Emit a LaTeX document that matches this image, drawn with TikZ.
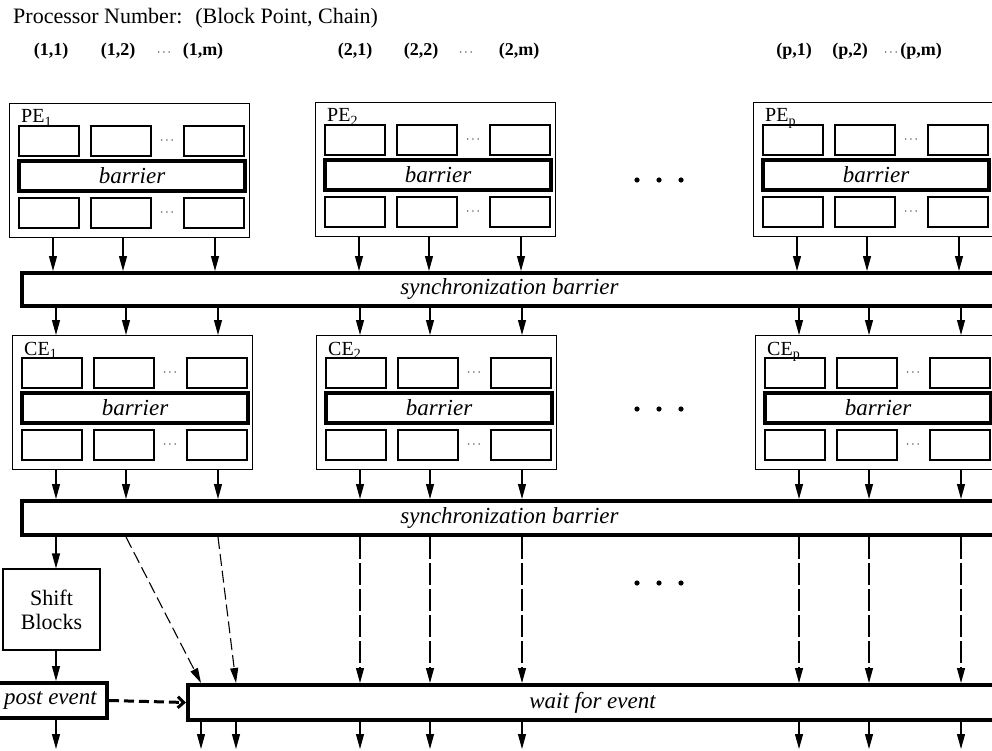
\documentclass[tikz,border=0pt]{standalone}
\usepackage{fontspec}
\setmainfont{Liberation Serif}
\usetikzlibrary{arrows.meta}
\tikzset{
 outerbox/.style={draw, line width=1.1pt, inner sep=0pt, minimum width=240pt, minimum height=134pt, anchor=north west},
 cell/.style={draw, line width=1.1pt, inner sep=0pt, minimum width=60pt, minimum height=30pt},
 barbox/.style={draw, line width=4pt, inner sep=0pt, minimum width=226pt, minimum height=30pt, font=\fontsize{23}{26}\selectfont\itshape},
 thickbar/.style={draw, line width=4pt, inner sep=0pt, font=\fontsize{23}{26}\selectfont\itshape},
 lbl/.style={inner sep=0pt, font=\fontsize{20}{22}\selectfont},
 coordlbl/.style={inner sep=0pt, anchor=base, font=\fontsize{18}{22}\selectfont\bfseries},
 smalldots/.style={inner sep=0pt, font=\fontsize{13}{16}\selectfont},
 arr/.style={line width=1.1pt, -{Triangle[length=15pt,width=8pt]}},
 darr/.style={arr, dash pattern=on 22pt off 4pt},
 diagarr/.style={arr, dash pattern=on 12pt off 5pt},
 eventarr/.style={line width=3pt, dash pattern=on 10pt off 5pt, -{Straight Barb[length=6pt,width=11pt]}},
}
\newcommand\procunit[4]{%
 \begin{scope}[shift={(#2,#3)}]
  \node[outerbox] (#1) at (0,0) {};
  \node[lbl, anchor=base west] (#1-name) at (12,20) {#4};
  \node[cell] (#1-a) at (40,38) {};
  \node[cell] (#1-b) at (112,38) {};
  \node[cell] (#1-c) at (205,38) {};
  \node[smalldots] (#1-d) at (158,38) {$\cdots$};
  \node[barbox] (#1-bar) at (123,73) {barrier};
  \node[cell] (#1-e) at (40,110) {};
  \node[cell] (#1-f) at (112,110) {};
  \node[cell] (#1-g) at (205,110) {};
  \node[smalldots] (#1-h) at (158,110) {$\cdots$};
  \coordinate (#1-t1) at (44,0);
  \coordinate (#1-t2) at (114,0);
  \coordinate (#1-t3) at (206,0);
  \coordinate (#1-b1) at (44,134);
  \coordinate (#1-b2) at (114,134);
  \coordinate (#1-b3) at (206,134);
 \end{scope}}
\begin{document}
\begin{tikzpicture}[x=1pt,y=-1pt]
\useasboundingbox (0,0) rectangle (992,751);
\clip (0,0) rectangle (992,751);
% title and processor numbers
\node[anchor=base west, inner sep=0pt, font=\fontsize{22}{26}\selectfont] (title) at (13,24) {Processor Number:~ (Block Point, Chain)};
\node[coordlbl] (n11) at (51,56) {(1,1)};
\node[coordlbl] (n12) at (118,56) {(1,2)};
\node[smalldots, anchor=base] (n1d) at (164,56) {$\cdots$};
\node[coordlbl] (n1m) at (203,56) {(1,m)};
\node[coordlbl] (n21) at (355,56) {(2,1)};
\node[coordlbl] (n22) at (421,56) {(2,2)};
\node[smalldots, anchor=base] (n2d) at (466,56) {$\cdots$};
\node[coordlbl] (n2m) at (519,56) {(2,m)};
\node[coordlbl] (np1) at (794,56) {(p,1)};
\node[coordlbl] (np2) at (850,56) {(p,2)};
\node[smalldots, anchor=base] (npd) at (891,56) {$\cdots$};
\node[coordlbl] (npm) at (921,56) {(p,m)};
% processor units
\procunit{pe1}{9}{103}{PE\textsubscript{1}}
\procunit{pe2}{315}{102}{PE\textsubscript{2}}
\procunit{pep}{753}{102}{PE\textsubscript{p}}
\procunit{ce1}{12}{335}{CE\textsubscript{1}}
\procunit{ce2}{316}{335}{CE\textsubscript{2}}
\procunit{cep}{755}{335}{CE\textsubscript{p}}
% bars
\node[thickbar, anchor=north west, minimum width=975pt, minimum height=33pt] (sb1) at (20,271) {synchronization barrier};
\node[thickbar, anchor=north west, minimum width=975pt, minimum height=34pt] (sb2) at (20,499) {synchronization barrier};
\node[draw, line width=1.1pt, inner sep=0pt, minimum width=97pt, minimum height=81pt, align=center, font=\fontsize{22}{24}\selectfont] (shift) at (51.5,609.5) {Shift\\Blocks};
\node[thickbar, minimum width=113pt, minimum height=35pt] (post) at (50.5,700.5) {post event};
\node[thickbar, anchor=north west, minimum width=809pt, minimum height=35pt] (wb) at (186,683) {wait for event};
\coordinate (bot) at (0,749);
\coordinate (wx1) at (201,683);
\coordinate (wx2) at (236,683);
% dots
\foreach \y in {180,409}{\foreach \x in {637,659,681}{\fill (\x,\y) circle[radius=2.6pt];}}
\foreach \x in {637,659,681}{\fill (\x,583) circle[radius=2.6pt];}
% arrows
\foreach \u in {pe1,pe2,pep}{\foreach \k in {1,2,3}{\draw[arr] (\u-b\k) -- (\u-b\k |- sb1.north);}}
\foreach \u in {ce1,ce2,cep}{\foreach \k in {1,2,3}{\draw[arr] (\u-t\k |- sb1.south) -- (\u-t\k);}}
\foreach \u in {ce1,ce2,cep}{\foreach \k in {1,2,3}{\draw[arr] (\u-b\k) -- (\u-b\k |- sb2.north);}}
\foreach \u in {ce2,cep}{\foreach \k in {1,2,3}{
  \draw[darr] (\u-b\k |- sb2.south) -- (\u-b\k |- wb.north);
  \draw[arr] (\u-b\k |- wb.south) -- (\u-b\k |- bot);}}
\draw[arr] (ce1-b1 |- sb2.south) -- (ce1-b1 |- shift.north);
\draw[arr] (ce1-b1 |- shift.south) -- (ce1-b1 |- post.north);
\draw[arr] (ce1-b1 |- post.south) -- (ce1-b1 |- bot);
\draw[diagarr] (ce1-b2 |- sb2.south) -- (wx1 |- wb.north);
\draw[diagarr] (ce1-b3 |- sb2.south) -- (wx2 |- wb.north);
\draw[arr] (wx1 |- wb.south) -- (wx1 |- bot);
\draw[arr] (wx2 |- wb.south) -- (wx2 |- bot);
\draw[eventarr] (post.east) -- (wb.west);
\end{tikzpicture}
\end{document}
